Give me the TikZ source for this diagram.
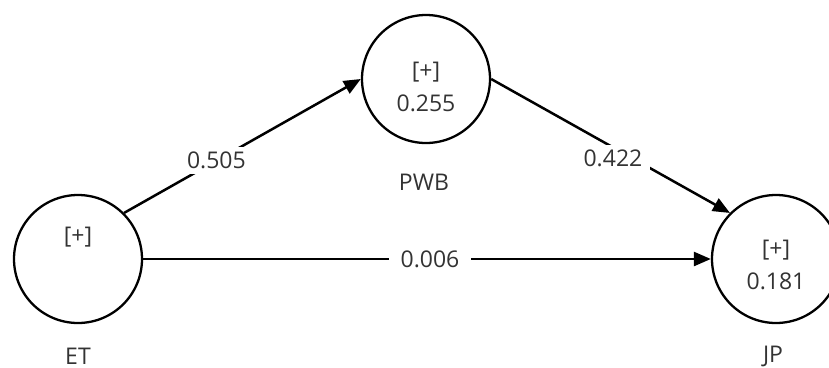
\documentclass[tikz,border=0pt]{standalone}
\usepackage{fontspec}
\setmainfont{Open Sans}
\usetikzlibrary{arrows.meta,positioning}
\tikzset{
  latent/.style={circle, draw, line width=2.3pt, minimum size=128pt, inner sep=0pt},
  txt/.style={text=black!80, font=\fontsize{23}{33}\selectfont, align=center, inner sep=1pt},
  coef/.style={txt, fill=white, inner xsep=12pt, inner ysep=5pt},
  effect/.style={line width=2.5pt, -{Triangle[length=17pt,width=14pt]}}
}
\begin{document}
\begin{tikzpicture}[x=1pt,y=-1pt]
\useasboundingbox (0,0) rectangle (829,367);
% constructs
\node[latent] (ET) at (78,259) {};
\node[latent] (PWB) at (426,79) {};
\node[latent] (JP) at (776,259) {};
\node[txt] (ETval) at ([yshift=22pt]ET.center) {[+]};
\node[txt] (PWBval) at ([yshift=-7.5pt]PWB.center) {[+]\\0.255};
\node[txt] (JPval) at ([yshift=-6pt]JP.center) {[+]\\0.181};
% names
\node[txt] (ETname) at (78,356) {ET};
\node[txt] (PWBname) at (424,182) {PWB};
\node[txt] (JPname) at (773,356) {JP};
% paths
\draw[effect] (ET.45) -- node[coef, pos=0.39, inner xsep=8pt] (etpwb) {0.505} (PWB.west);
\draw[effect] (PWB.east) -- node[coef, pos=0.51, yshift=-11pt, inner xsep=8pt] (pwbjp) {0.422} (JP.135);
\draw[effect] (ET.east) -- node[coef, pos=0.5, xshift=3pt] (etjp) {0.006} (JP.west);
\end{tikzpicture}
\end{document}
